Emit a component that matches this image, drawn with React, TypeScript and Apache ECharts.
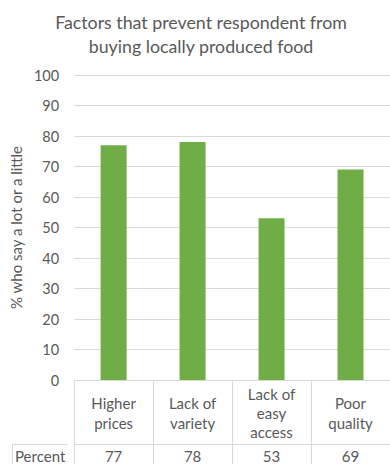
import React, { useEffect, useRef } from "react";
import * as echarts from "echarts";

const categories = ["Higher\nprices", "Lack of\nvariety", "Lack of\neasy\naccess", "Poor\nquality"];
const percentValues = [77, 78, 53, 69];
const rowLabel = "Percent";
const titleText = "Factors that prevent respondent from\nbuying locally produced food";
const yAxisName = "% who say a lot or a little";

const FONT = "Lato, 'Open Sans', sans-serif";
const TEXT = "#595959";
const GRID_LINE = "#d9d9d9";
const BAR = "#70AD47";

export default function App() {
  const ref = useRef<HTMLDivElement>(null);
  useEffect(() => {
    document.body.style.margin = "0";
    const chart = echarts.init(ref.current!, null, { renderer: "svg" });
    const gridLeft = 68;
    const gridTop = 75;
    const gridBottom = 84;
    const rowTop = 444;
    chart.setOption({
      animation: false,
      textStyle: { fontFamily: FONT },
      grid: { left: gridLeft, top: gridTop, bottom: gridBottom, right: -8, containLabel: false },
      xAxis: [
        {
          type: "category",
          data: categories,
          position: "bottom",
          axisLine: { show: true, lineStyle: { color: GRID_LINE, width: 1 } },
          axisTick: { show: true, interval: 0, length: 84, lineStyle: { color: GRID_LINE } },
          axisLabel: {
            interval: 0,
            color: TEXT,
            fontSize: 15,
            fontFamily: FONT,
            lineHeight: 19.3,
            margin: 33,
            verticalAlign: "middle",
          },
        },
        {
          type: "category",
          data: percentValues.map((v) => String(v)),
          position: "bottom",
          offset: 64,
          axisLine: { show: true, lineStyle: { color: GRID_LINE, width: 1 } },
          axisTick: { show: false },
          axisLabel: {
            interval: 0,
            color: TEXT,
            fontSize: 15,
            fontFamily: FONT,
            margin: 12,
            verticalAlign: "middle",
          },
        },
      ],
      yAxis: {
        type: "value",
        min: 0,
        max: 100,
        interval: 10,
        name: yAxisName,
        nameLocation: "middle",
        nameRotate: 90,
        nameGap: 45,
        nameTextStyle: { color: TEXT, fontSize: 15, fontFamily: FONT },
        axisLine: { show: false },
        axisTick: { show: false },
        axisLabel: { color: TEXT, fontSize: 14.5, fontFamily: FONT, margin: 15 },
        splitLine: { lineStyle: { color: GRID_LINE, width: 1 } },
      },
      series: [
        {
          type: "bar",
          data: percentValues,
          barWidth: 26,
          itemStyle: { color: BAR },
        },
      ],
      graphic: [
        {
          type: "text",
          x: 201,
          y: 10,
          style: {
            text: titleText,
            fill: TEXT,
            font: `17.8px ${FONT}`,
            lineHeight: 23.8,
            textAlign: "center",
            textVerticalAlign: "top",
          },
        },
        {
          type: "line",
          shape: { x1: 12.5, y1: rowTop + 0.5, x2: gridLeft, y2: rowTop + 0.5 },
          style: { stroke: GRID_LINE, lineWidth: 1 },
        },
        {
          type: "line",
          shape: { x1: 12.5, y1: rowTop, x2: 12.5, y2: 464 },
          style: { stroke: GRID_LINE, lineWidth: 1 },
        },
        {
          type: "text",
          x: 15,
          y: 456,
          style: {
            text: rowLabel,
            fill: TEXT,
            font: `15px ${FONT}`,
            textAlign: "left",
            textVerticalAlign: "middle",
          },
        },
      ],
    });
    return () => chart.dispose();
  }, []);
  return (
    <div
      ref={ref}
      style={{ position: "fixed", left: 0, top: 0, width: 390, height: 464, background: "#fff" }}
    />
  );
}
